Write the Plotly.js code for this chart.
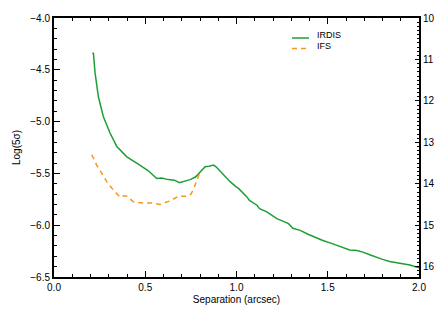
<!DOCTYPE html>
<html>
<head>
<meta charset="utf-8">
<script src="https://cdn.plot.ly/plotly-3.0.1.min.js"></script>
<style>html,body{margin:0;padding:0;background:#fff;}#chart{width:436px;height:312px;}</style>
</head>
<body>
<div id="chart"></div>
<script>
// IRDIS contrast curve
const irdisSep = [0.21, 0.216, 0.225, 0.243, 0.270, 0.307, 0.344, 0.399, 0.462, 0.517, 0.563, 0.590, 0.627, 0.660, 0.687, 0.715, 0.746, 0.775, 0.792, 0.810, 0.828, 0.850, 0.874, 0.888, 0.910, 0.940, 0.965, 0.998, 1.011, 1.057, 1.071, 1.112, 1.126, 1.166, 1.208, 1.221, 1.260, 1.285, 1.309, 1.349, 1.395, 1.419, 1.470, 1.528, 1.580, 1.620, 1.660, 1.693, 1.730, 1.766, 1.800, 1.839, 1.870, 1.903, 1.950, 2.0];
const irdisLog = [-4.337, -4.34, -4.53, -4.758, -4.95, -5.11, -5.24, -5.34, -5.41, -5.475, -5.55, -5.545, -5.56, -5.565, -5.59, -5.575, -5.56, -5.535, -5.50, -5.47, -5.436, -5.43, -5.42, -5.436, -5.48, -5.53, -5.58, -5.63, -5.645, -5.727, -5.76, -5.807, -5.84, -5.872, -5.92, -5.936, -5.965, -5.985, -6.03, -6.05, -6.09, -6.11, -6.145, -6.18, -6.21, -6.24, -6.245, -6.26, -6.285, -6.31, -6.33, -6.35, -6.358, -6.366, -6.385, -6.41];
// IFS contrast curve
const ifsSep = [0.207, 0.234, 0.262, 0.289, 0.325, 0.353, 0.362, 0.380, 0.399, 0.435, 0.49, 0.536, 0.581, 0.636, 0.682, 0.728, 0.750, 0.764, 0.780, 0.792, 0.800];
const ifsLog = [-5.32, -5.42, -5.50, -5.58, -5.66, -5.72, -5.73, -5.715, -5.72, -5.775, -5.785, -5.785, -5.80, -5.765, -5.72, -5.72, -5.70, -5.655, -5.58, -5.517, -5.485];
// series names
const seriesNames = ['IRDIS', 'IFS'];
// axis ranges / ticks
const xRange = [0, 2.0];
const yRange = [-6.5, -4.0];
const magRange = [16.25, 10];
const magTicks = [10, 11, 12, 13, 14, 15, 16];

const fnt = {family: 'Liberation Sans, Arial, sans-serif', size: 10, color: '#000'};
const legFnt = {family: 'Liberation Sans, Arial, sans-serif', size: 9, color: '#000'};
const green = '#1f9e35', orange = '#f5961e';

const traces = [
  {x: irdisSep, y: irdisLog, name: seriesNames[0], mode: 'lines', line: {color: green, width: 1.5}},
  {x: ifsSep, y: ifsLog, name: seriesNames[1], mode: 'lines', line: {color: orange, width: 1.5, dash: '5px,4px'}},
  {x: [xRange[0]], y: [magTicks[0]], yaxis: 'y2', mode: 'markers', marker: {opacity: 0}, showlegend: false, hoverinfo: 'skip'}
];

// manual legend (paper coords): plot area x 54..419, y 18..277
const pl = 54, pw = 365, pt = 18, ph = 259;
const px = v => (v - pl) / pw;
const py = v => 1 - (v - pt) / ph;

const layout = {
  width: 436, height: 312,
  margin: {l: 54, r: 17, t: 18, b: 35},
  paper_bgcolor: '#fff', plot_bgcolor: '#fff',
  font: fnt,
  showlegend: false,
  shapes: [
    {type: 'line', xref: 'paper', yref: 'paper', x0: px(292), x1: px(309), y0: py(38), y1: py(38), line: {color: green, width: 1.5}},
    {type: 'line', xref: 'paper', yref: 'paper', x0: px(292), x1: px(309), y0: py(48.5), y1: py(48.5), line: {color: orange, width: 1.5, dash: '5px,4px'}}
  ],
  annotations: [
    {xref: 'paper', yref: 'paper', x: px(315), y: py(35.5), xanchor: 'left', yanchor: 'middle', text: seriesNames[0], showarrow: false, font: legFnt},
    {xref: 'paper', yref: 'paper', x: px(315), y: py(46), xanchor: 'left', yanchor: 'middle', text: seriesNames[1], showarrow: false, font: legFnt}
  ],
  xaxis: {
    range: xRange, dtick: 0.5, tick0: 0, tickformat: '.1f',
    showgrid: false, zeroline: false, showline: true, linecolor: '#000', linewidth: 2,
    mirror: 'ticks', ticks: 'inside', ticklen: 6, tickwidth: 1.2, tickcolor: '#000',
    minor: {dtick: 0.1, ticks: 'inside', ticklen: 3, tickcolor: '#000', tickwidth: 1},
    tickfont: fnt,
    title: {text: 'Separation (arcsec)', font: fnt, standoff: 4}
  },
  yaxis: {
    range: yRange, dtick: 0.5, tick0: -4, tickformat: '.1f',
    showgrid: false, zeroline: false, showline: true, linecolor: '#000', linewidth: 2,
    ticks: 'inside', ticklen: 6, tickwidth: 1.2, tickcolor: '#000',
    minor: {dtick: 0.1, ticks: 'inside', ticklen: 3, tickcolor: '#000', tickwidth: 1},
    tickfont: fnt,
    title: {text: 'Log(5σ)', font: fnt, standoff: 8}
  },
  yaxis2: {
    overlaying: 'y', side: 'right', range: magRange,
    tickvals: magTicks, ticktext: magTicks.map(String),
    showgrid: false, zeroline: false, showline: true, linecolor: '#000', linewidth: 2,
    ticks: 'inside', ticklen: 4, tickwidth: 1.2, tickcolor: '#000',
    minor: {dtick: 0.1, ticks: 'inside', ticklen: 2, tickcolor: '#000', tickwidth: 1},
    tickfont: fnt
  }
};

Plotly.newPlot('chart', traces, layout, {displayModeBar: false, staticPlot: true});
</script>
</body>
</html>
